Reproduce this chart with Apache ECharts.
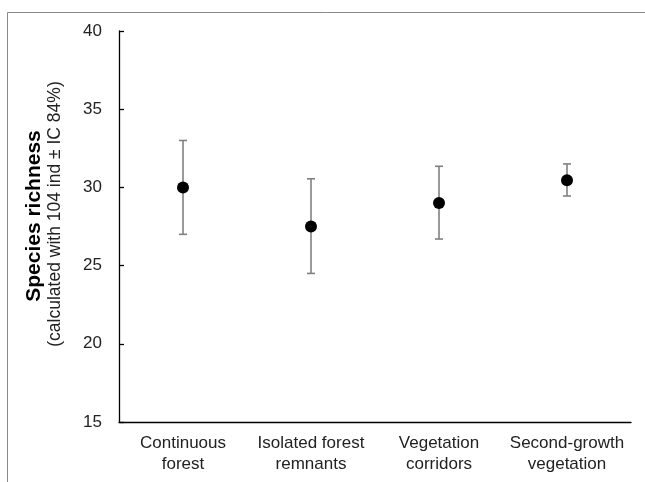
<!DOCTYPE html>
<html><head><meta charset="utf-8">
<script src="https://cdn.jsdelivr.net/npm/echarts@6/dist/echarts.min.js"></script>
<style>html,body{margin:0;padding:0;background:#fff}#c{width:645px;height:482px}</style>
</head><body><div id="c"></div>
<script>
const categories = ['Continuous\nforest', 'Isolated forest\nremnants', 'Vegetation\ncorridors', 'Second-growth\nvegetation'];
const means = [30.0, 27.5, 29.0, 30.45];
const lower = [27.0, 24.5, 26.7, 29.45];
const upper = [33.0, 30.55, 31.35, 31.5];
const yTicks = [15, 20, 25, 30, 35, 40];

const chart = echarts.init(document.getElementById('c'));
const font = 'Liberation Sans, Arial, sans-serif';
chart.setOption({
  backgroundColor: '#fff',
  animation: false,
  grid: { left: 119, right: 14, top: 31, bottom: 60 },
  xAxis: {
    type: 'category', data: categories, boundaryGap: true,
    axisLine: { lineStyle: { color: '#000', width: 1.3 } },
    axisTick: { inside: true, length: 5, alignWithLabel: true, lineStyle: { color: '#000', width: 1.3 } },
    axisLabel: { color: '#222', fontFamily: font, fontSize: 17, lineHeight: 21, margin: 11, interval: 0 },
    splitLine: { show: false }
  },
  yAxis: {
    type: 'value', min: yTicks[0], max: yTicks[yTicks.length - 1], interval: 5,
    axisLine: { show: true, lineStyle: { color: '#000', width: 1.3 } },
    axisTick: { show: true, inside: true, length: 5, lineStyle: { color: '#000', width: 1.3 } },
    axisLabel: { color: '#222', fontFamily: font, fontSize: 17, margin: 17 },
    splitLine: { show: false }
  },
  graphic: [
    { type: 'rect', shape: { x: 7.5, y: 12.5, width: 700, height: 600 }, style: { fill: 'none', stroke: '#888', lineWidth: 1 }, z: -1 },
    { type: 'text', x: 34, y: 216, rotation: Math.PI / 2,
      style: { text: 'Species richness', fontFamily: font, fontSize: 21, fontWeight: 'bold', fill: '#000', textAlign: 'center', textVerticalAlign: 'middle' } },
    { type: 'text', x: 55, y: 214, rotation: Math.PI / 2,
      style: { text: '(calculated with 104 ind \u00b1 IC 84%)', fontFamily: font, fontSize: 17.5, fill: '#222', textAlign: 'center', textVerticalAlign: 'middle' } }
  ],
  series: [
    {
      type: 'custom',
      data: categories.map((c, i) => [i, lower[i], upper[i]]),
      renderItem: function (params, api) {
        const x = api.value(0);
        const lo = api.coord([x, api.value(1)]);
        const hi = api.coord([x, api.value(2)]);
        const w = 4;
        const st = { stroke: '#808080', lineWidth: 1.6 };
        return { type: 'group', children: [
          { type: 'line', shape: { x1: lo[0], y1: lo[1], x2: hi[0], y2: hi[1] }, style: st },
          { type: 'line', shape: { x1: lo[0] - w, y1: lo[1], x2: lo[0] + w, y2: lo[1] }, style: st },
          { type: 'line', shape: { x1: hi[0] - w, y1: hi[1], x2: hi[0] + w, y2: hi[1] }, style: st }
        ] };
      },
      z: 1
    },
    {
      type: 'scatter', data: means, symbol: 'circle', symbolSize: 12,
      itemStyle: { color: '#000', opacity: 1 }, z: 3
    }
  ]
});
</script></body></html>
